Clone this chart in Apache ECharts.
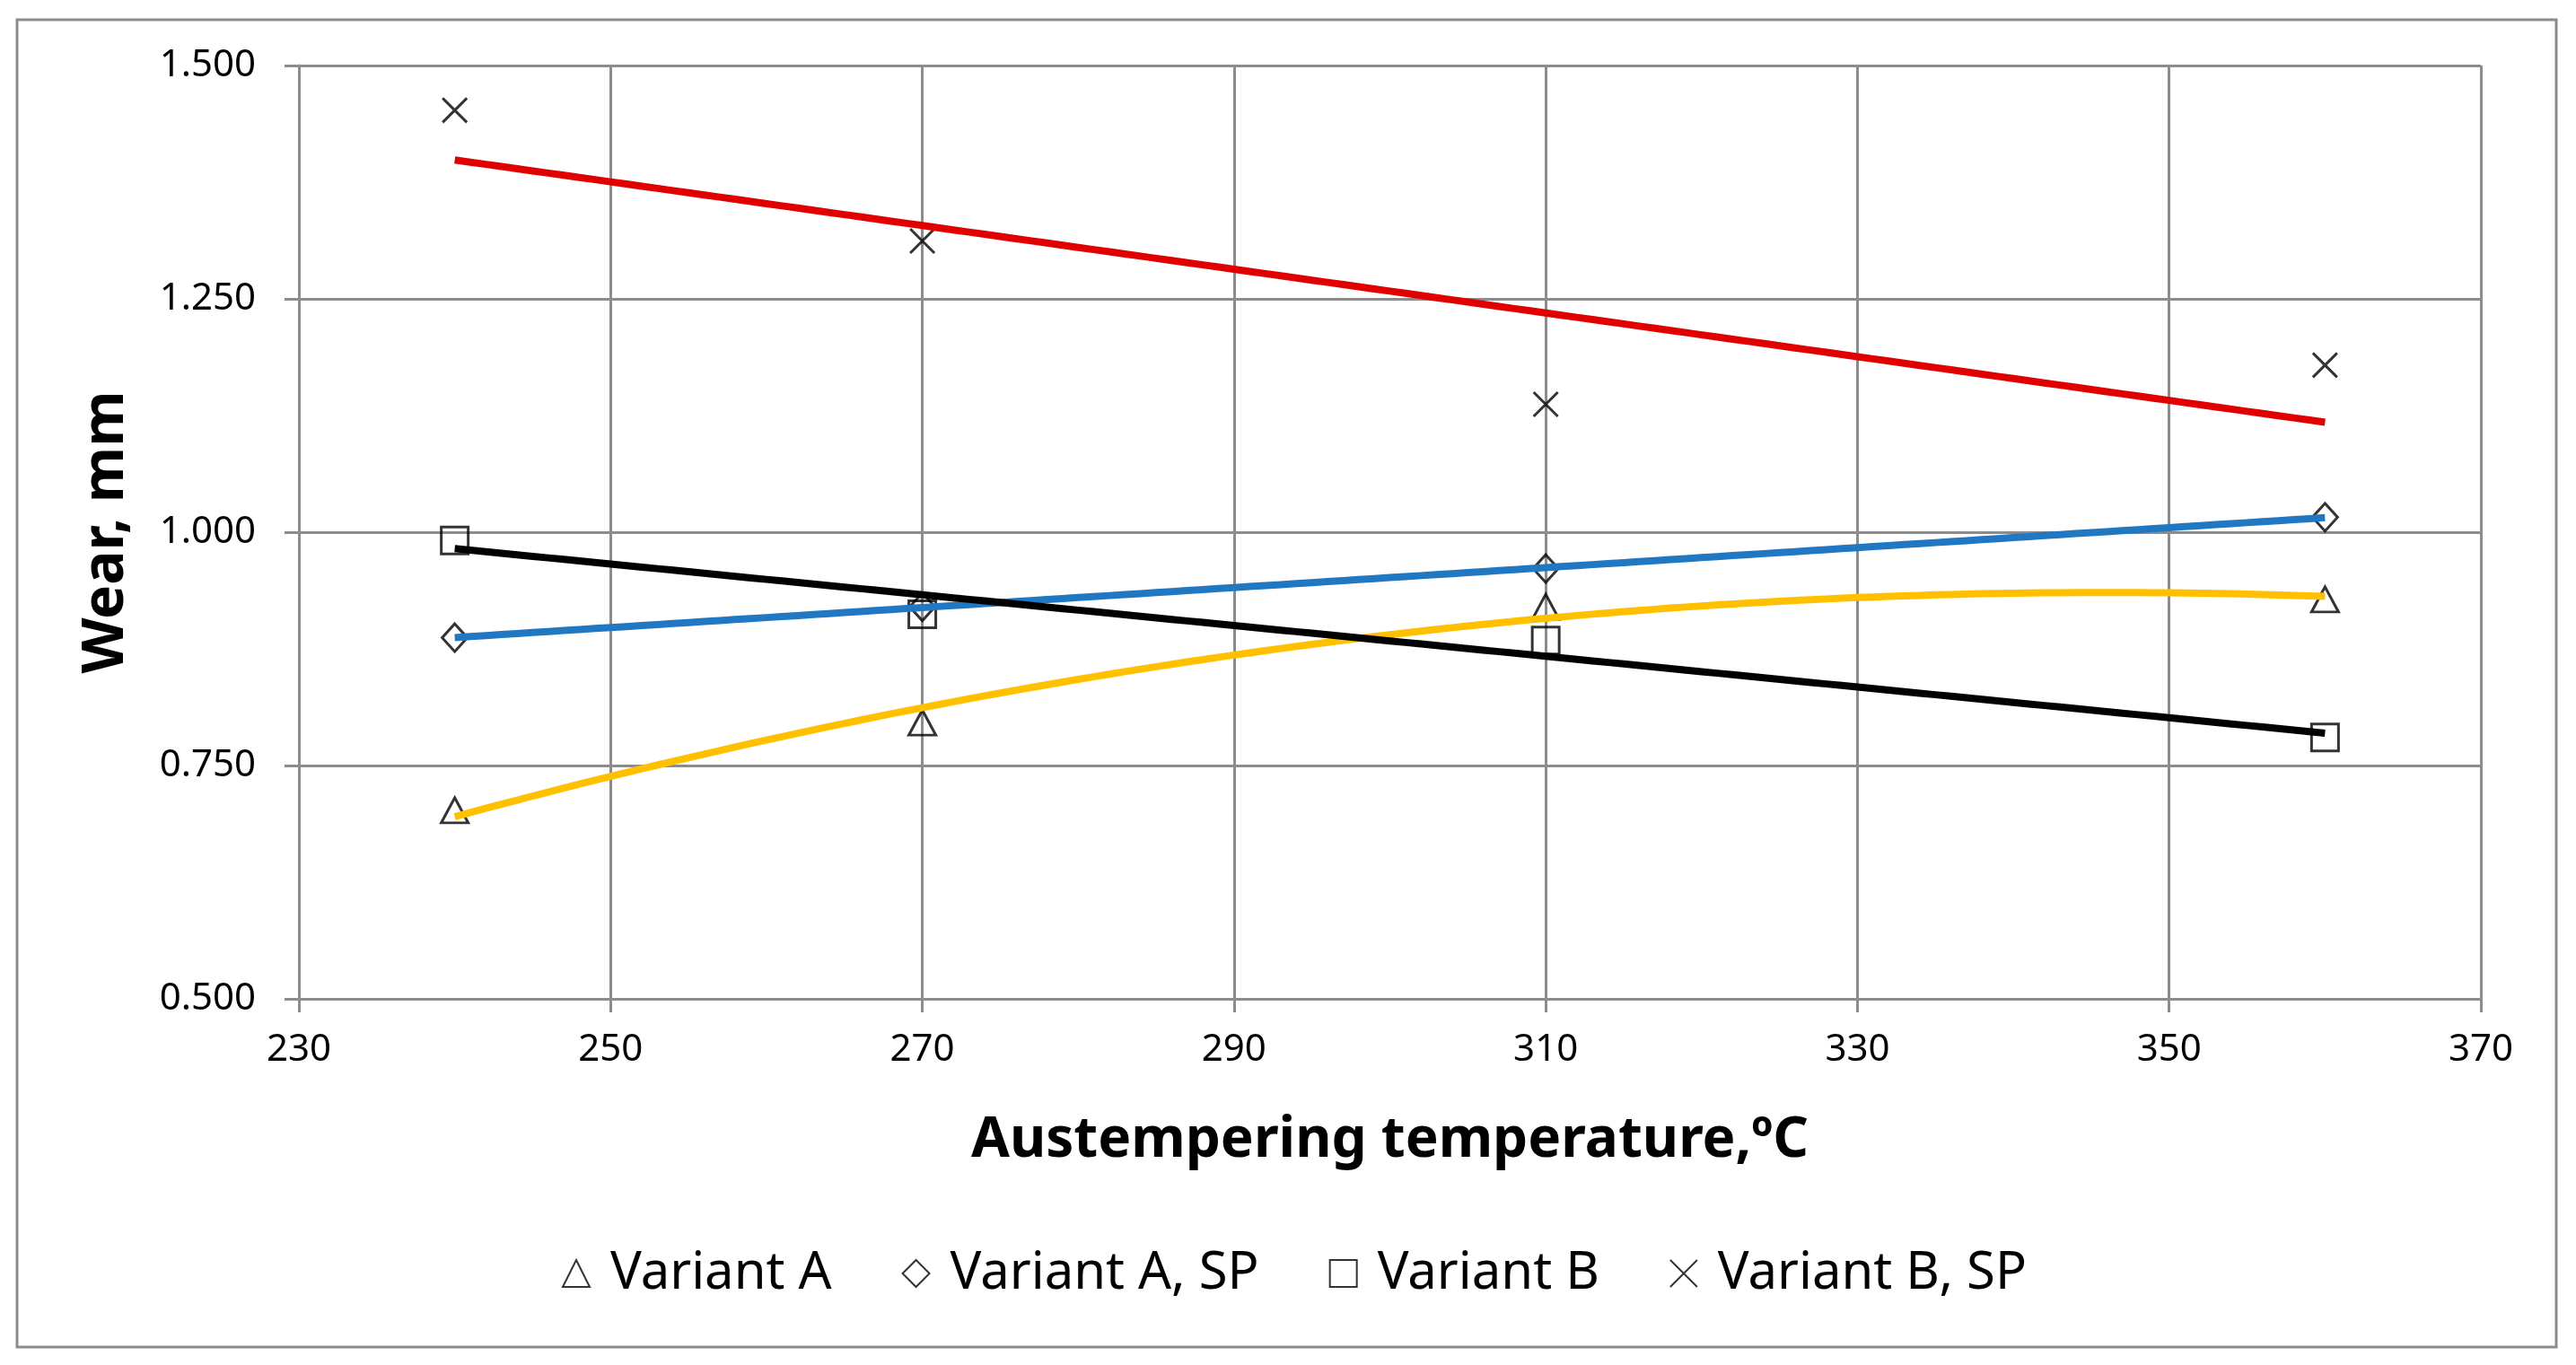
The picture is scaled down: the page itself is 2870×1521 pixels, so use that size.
<!DOCTYPE html>
<html>
<head>
<meta charset="utf-8">
<script src="https://cdn.jsdelivr.net/npm/echarts@6/dist/echarts.min.js"></script>
<style>
html,body{margin:0;padding:0;background:#fff;}
#chart{width:2870px;height:1521px;}
</style>
</head>
<body>
<div id="chart"></div>
<script>
// ---- data ----
const temps = [240, 270, 310, 360];
const variantA   = [0.702, 0.796, 0.920, 0.928];
const variantASP = [0.887, 0.920, 0.961, 1.016];
const variantB   = [0.991, 0.912, 0.884, 0.780];
const variantBSP = [1.452, 1.312, 1.137, 1.179];
const seriesNames = ['Variant A', 'Variant A, SP', 'Variant B', 'Variant B, SP'];
const xTickMin = 230, xTickMax = 370, xTickStep = 20;
const yTickMin = 0.5, yTickMax = 1.5, yTickStep = 0.25;

// least-squares polynomial fit (trendline like a spreadsheet)
function polyFit(xs, ys, deg) {
  const n = deg + 1;
  const A = [];
  for (let i = 0; i < n; i++) {
    A.push([]);
    for (let j = 0; j < n; j++) {
      let s = 0; xs.forEach(x => s += Math.pow(x - 300, i + j));
      A[i].push(s);
    }
    let r = 0; xs.forEach((x, k) => r += ys[k] * Math.pow(x - 300, i));
    A[i].push(r);
  }
  for (let c = 0; c < n; c++) {
    let p = c;
    for (let r = c + 1; r < n; r++) if (Math.abs(A[r][c]) > Math.abs(A[p][c])) p = r;
    [A[c], A[p]] = [A[p], A[c]];
    for (let r = 0; r < n; r++) {
      if (r === c) continue;
      const f = A[r][c] / A[c][c];
      for (let k = c; k <= n; k++) A[r][k] -= f * A[c][k];
    }
  }
  const coef = A.map((row, i) => row[n] / row[i]);
  return x => coef.reduce((s, c, i) => s + c * Math.pow(x - 300, i), 0);
}
function trend(ys, deg) {
  const f = polyFit(temps, ys, deg);
  const pts = [];
  for (let x = temps[0]; x <= temps[temps.length - 1]; x += 1) pts.push([x, f(x)]);
  return pts;
}
const pairs = ys => temps.map((t, i) => [t, ys[i]]);

const FONT = "'Noto Sans', 'Open Sans', sans-serif";
const GRID = '#8c8c8c';
const markerStyle = { color: 'rgba(0,0,0,0)', borderColor: '#000', borderWidth: 3 };
const crossPath = 'path://M0,0L20,20M20,0L0,20';

const chart = echarts.init(document.getElementById('chart'), null, { renderer: 'canvas' });
chart.setOption({
  backgroundColor: '#fff',
  animation: false,
  graphic: [{
    type: 'rect', z: 0,
    shape: { x: 19, y: 22, width: 2829, height: 1479 },
    style: { fill: 'none', stroke: '#8c8c8c', lineWidth: 3 }
  }],
  grid: { left: 333, right: 106, top: 73, bottom: 408, containLabel: false },
  legend: {
    data: seriesNames,
    bottom: 68,
    left: 621,
    itemWidth: 30, itemHeight: 30, itemGap: 78,
    textStyle: { fontFamily: FONT, fontSize: 58, color: '#000', padding: [0, 0, 0, 18] }
  },
  xAxis: {
    type: 'value', min: xTickMin, max: xTickMax, interval: xTickStep,
    name: 'Austempering temperature,ºC',
    nameLocation: 'middle', nameGap: 127,
    nameTextStyle: { fontFamily: FONT, fontSize: 62, fontWeight: 'bold', color: '#000' },
    axisLine: { show: true, lineStyle: { color: GRID, width: 3 } },
    axisTick: { show: true, length: 15, lineStyle: { color: GRID, width: 3 } },
    axisLabel: { fontFamily: FONT, fontSize: 42, color: '#000', margin: 36 },
    splitLine: { show: true, lineStyle: { color: GRID, width: 3 } }
  },
  yAxis: {
    type: 'value', min: yTickMin, max: yTickMax, interval: yTickStep,
    name: 'Wear, mm',
    nameLocation: 'middle', nameGap: 182,
    nameTextStyle: { fontFamily: FONT, fontSize: 64, fontWeight: 'bold', color: '#000' },
    axisLine: { show: true, lineStyle: { color: GRID, width: 3 } },
    axisTick: { show: true, length: 16, lineStyle: { color: GRID, width: 3 } },
    axisLabel: { fontFamily: FONT, fontSize: 42, color: '#000', margin: 48,
      formatter: v => v.toFixed(3) },
    splitLine: { show: true, lineStyle: { color: GRID, width: 3 } }
  },
  series: [
    { name: 'Variant A', type: 'scatter', data: pairs(variantA), symbol: 'triangle',
      symbolSize: [30, 28], itemStyle: markerStyle, z: 2 },
    { name: 'Variant A, SP', type: 'scatter', data: pairs(variantASP), symbol: 'diamond',
      symbolSize: [28, 31], itemStyle: markerStyle, z: 2 },
    { name: 'Variant B', type: 'scatter', data: pairs(variantB), symbol: 'rect',
      symbolSize: [30, 30], itemStyle: markerStyle, z: 2 },
    { name: 'Variant B, SP', type: 'scatter', data: pairs(variantBSP), symbol: crossPath,
      symbolSize: [27, 27], itemStyle: markerStyle, z: 2 },
    { name: 'trendA', type: 'line', data: trend(variantA, 2), showSymbol: false, smooth: false,
      lineStyle: { color: '#FFC000', width: 8 }, z: 3, silent: true },
    { name: 'trendASP', type: 'line', data: trend(variantASP, 1), showSymbol: false,
      lineStyle: { color: '#1F78C1', width: 8 }, z: 3, silent: true },
    { name: 'trendB', type: 'line', data: trend(variantB, 1), showSymbol: false,
      lineStyle: { color: '#000', width: 8 }, z: 3, silent: true },
    { name: 'trendBSP', type: 'line', data: trend(variantBSP, 1), showSymbol: false,
      lineStyle: { color: '#E00000', width: 8 }, z: 3, silent: true }
  ]
});
</script>
</body>
</html>
